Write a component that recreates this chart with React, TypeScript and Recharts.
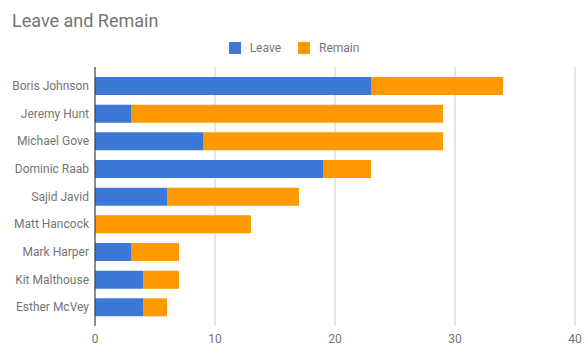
import { BarChart, Bar, XAxis, YAxis, CartesianGrid } from "recharts";

const candidates = [
  "Boris Johnson",
  "Jeremy Hunt",
  "Michael Gove",
  "Dominic Raab",
  "Sajid Javid",
  "Matt Hancock",
  "Mark Harper",
  "Kit Malthouse",
  "Esther McVey",
];
const leave = [23, 3, 9, 19, 6, 0, 3, 4, 4];
const remain = [11, 26, 20, 4, 11, 13, 4, 3, 2];
const xTicks = [0, 10, 20, 30, 40];

const BLUE = "#3c78d8";
const ORANGE = "#ff9900";
const MUTED = "#757575";
const FONT = "Roboto, Arial, sans-serif";

const data = candidates.map((name, i) => ({ name, Leave: leave[i], Remain: remain[i] }));

// google-sheets style legend: small squares, grey labels
function LegendRow() {
  const items = [
    { label: "Leave", color: BLUE },
    { label: "Remain", color: ORANGE },
  ];
  return (
    <div style={{ display: "flex", justifyContent: "center", gap: 17, fontFamily: FONT, fontSize: 12, color: MUTED }}>
      {items.map((it) => (
        <div key={it.label} style={{ display: "flex", alignItems: "center" }}>
          <span style={{ width: 12, height: 12, background: it.color, display: "inline-block", marginRight: 9 }} />
          {it.label}
        </div>
      ))}
    </div>
  );
}

export default function App() {
  return (
    <div style={{ position: "absolute", left: 0, top: 0, width: 588, height: 359, background: "#fff" }}>
      <div style={{ position: "absolute", left: 12, top: 10, fontFamily: FONT, fontSize: 18, color: MUTED }}>
        Leave and Remain
      </div>
      <div style={{ position: "absolute", left: 0, top: 41, width: 588 }}>
        <LegendRow />
      </div>
      <BarChart
        width={588}
        height={359}
        data={data}
        layout="vertical"
        margin={{ top: 67, right: 13, left: 0, bottom: 13 }}
        barSize={18}
      >
        <CartesianGrid horizontal={false} stroke="#cccccc" />
        <XAxis
          type="number"
          domain={[0, 40]}
          ticks={xTicks}
          axisLine={false}
          tickLine={false}
          height={20}
          tick={{ fill: MUTED, fontSize: 12, fontFamily: FONT }}
        />
        <YAxis
          type="category"
          dataKey="name"
          width={95}
          tickLine={false}
          tickMargin={0}
          padding={{ top: 5, bottom: 5 }}
          axisLine={{ stroke: "#333333" }}
          interval={0}
          tick={{ fill: MUTED, fontSize: 12, fontFamily: FONT }}
        />
        <Bar dataKey="Leave" stackId="a" fill={BLUE} isAnimationActive={false} />
        <Bar dataKey="Remain" stackId="a" fill={ORANGE} isAnimationActive={false} />
      </BarChart>
    </div>
  );
}
